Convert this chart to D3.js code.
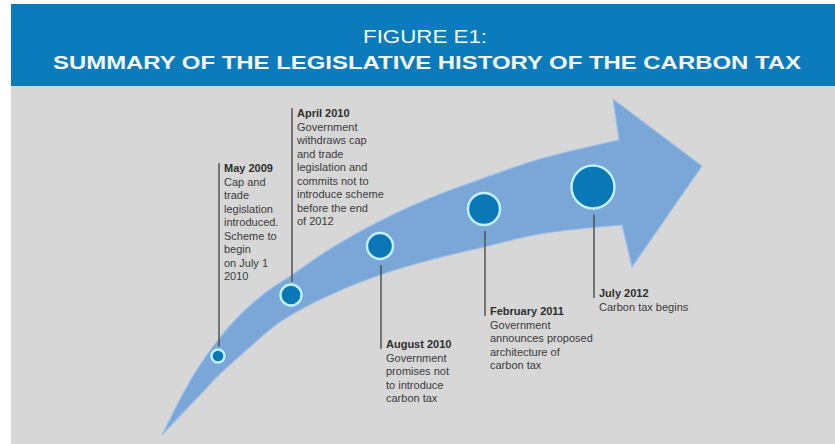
<!DOCTYPE html>
<html><head><meta charset="utf-8">
<script src="https://cdn.jsdelivr.net/npm/d3@7"></script>
<style>html,body{margin:0;padding:0;background:#fff;}svg{display:block;}</style>
</head><body>
<svg id="chart" width="835" height="444"></svg>
<script>
// ---- data ----
const titleLine1 = "FIGURE E1:";
const titleLine2 = "SUMMARY OF THE LEGISLATIVE HISTORY OF THE CARBON TAX";
const eventDates = ["May 2009", "April 2010", "August 2010", "February 2011", "July 2012"];
const eventDescriptions = [
  ["Cap and", "trade", "legislation", "introduced.", "Scheme to", "begin", "on July 1", "2010"],
  ["Government", "withdraws cap", "and trade", "legislation and", "commits not to", "introduce scheme", "before the end", "of 2012"],
  ["Government", "promises not", "to introduce", "carbon tax"],
  ["Government", "announces proposed", "architecture of", "carbon tax"],
  ["Carbon tax begins"]
];
const eventOrder = [0, 1, 2, 3, 4];

// ---- layout ----
const svg = d3.select("#chart");
const W = 835, H = 444;
svg.append("rect").attr("x", 11).attr("y", 4).attr("width", W - 11).attr("height", 82).attr("fill", "#0b7bbb");
svg.append("rect").attr("x", 11).attr("y", 86).attr("width", W - 11).attr("height", H - 86).attr("fill", "#d7d7d7");

svg.append("text").attr("x", 425).attr("y", 43).attr("text-anchor", "middle")
  .attr("font-family", "Liberation Sans, Arial, sans-serif").attr("font-size", 19)
  .attr("fill", "#f4f8fb").attr("textLength", 124).attr("lengthAdjust", "spacingAndGlyphs")
  .text(titleLine1);
svg.append("text").attr("x", 427).attr("y", 69).attr("text-anchor", "middle")
  .attr("font-family", "Liberation Sans, Arial, sans-serif").attr("font-size", 18).attr("font-weight", "bold")
  .attr("fill", "#f4f8fb").attr("textLength", 748).attr("lengthAdjust", "spacingAndGlyphs")
  .text(titleLine2);

// arrow shape
const upperEdge = [[162,435],[172,415],[185,390],[200,365],[218,340],[240,315],[265,293],[292,275],[330,249],[380,221],[430,198],[484,178],[540,159],[619,140]];
const lowerEdge = [[162,435],[178,418],[200,395],[218,376],[250,347],[280,322],[330,295],[380,275],[430,260],[484,247],[540,234],[622,225]];
const head = [[619,140],[613,99],[702,166],[632,267],[622,225]];
const line = d3.line().curve(d3.curveCatmullRom.alpha(0.5));
const upperPath = line(upperEdge);
const lowerRev = line(lowerEdge.slice().reverse());
const d = upperPath + "L" + head.slice(1).map(p => p.join(",")).join("L") + lowerRev.replace(/^M/, "L") + "Z";
svg.append("path").attr("d", d).attr("fill", "#7aa6d8").attr("stroke", "#9cc0e8").attr("stroke-width", 1.2).attr("stroke-linejoin", "miter");

// milestones
const xPos = d3.scaleLinear().domain(eventOrder).range([218, 291, 380, 484, 593]);
const yPos = d3.scaleLinear().domain(eventOrder).range([356, 295, 246, 209, 187]);
const rPos = d3.scaleLinear().domain(eventOrder).range([6.5, 10.5, 13, 16, 21.5]);
const labelBaseline = [172, 117, 348, 315, 297];
const lineH = 13.5;

eventOrder.forEach(i => {
  const cx = xPos(i), cy = yPos(i), r = rPos(i);
  const lx = cx + 1;
  const above = i < 2;
  const b = labelBaseline[i];
  const y1 = above ? b - 9 : cy + r + 6;
  const y2 = above ? cy - r - 3 : b + 1;
  svg.append("line").attr("x1", lx).attr("x2", lx).attr("y1", y1).attr("y2", y2)
    .attr("stroke", "#4a4a4a").attr("stroke-width", 1.4);
  const t = svg.append("text").attr("x", lx + 5).attr("y", b)
    .attr("font-family", "Liberation Sans, Arial, sans-serif").attr("font-size", 11).attr("fill", "#3a3a3a");
  t.append("tspan").attr("x", lx + 5).attr("font-weight", "bold").attr("fill", "#2e2e2e").text(eventDates[i]);
  eventDescriptions[i].forEach((s, k) => {
    t.append("tspan").attr("x", lx + 5).attr("dy", lineH).text(s);
  });
  svg.append("circle").attr("cx", cx).attr("cy", cy).attr("r", r)
    .attr("fill", "#0a78b6").attr("stroke", "#c2f2ff").attr("stroke-width", 2.4);
});
</script>
</body></html>
